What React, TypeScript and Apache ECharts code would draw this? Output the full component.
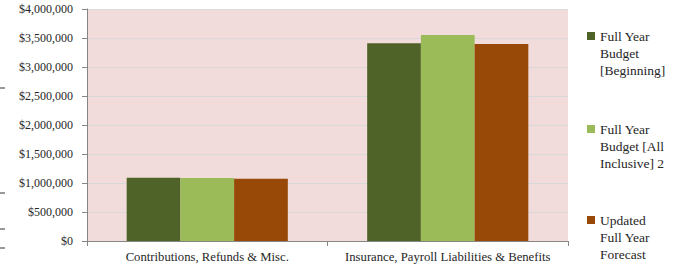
import React, { useEffect, useRef } from "react";
import * as echarts from "echarts";

const categories = ["Contributions, Refunds & Misc.", "Insurance, Payroll Liabilities & Benefits"];
const seriesNames = ["Full Year Budget [Beginning]", "Full Year Budget [All Inclusive] 2", "Updated Full Year Forecast"];
const legendLabels = ["Full Year\nBudget\n[Beginning]", "Full Year\nBudget [All\nInclusive] 2", "Updated\nFull Year\nForecast"];
const budgetBeginning = [1090000, 3410000];
const budgetAllInclusive = [1088000, 3550000];
const updatedForecast = [1075000, 3395000];
const colors = ["#4f6228", "#9bbb59", "#984807"];

const FONT = "Liberation Serif";
const legendTops = [-6.5, 86.5, 177.5];

export default function App() {
  const ref = useRef<HTMLDivElement>(null);
  useEffect(() => {
    const chart = echarts.init(ref.current!, null, { renderer: "svg" });
    const values = [budgetBeginning, budgetAllInclusive, updatedForecast];
    chart.setOption({
      animation: false,
      textStyle: { fontFamily: FONT },
      grid: { left: 87, right: 113, top: 9, bottom: 27, show: true, backgroundColor: "#f2dcdb", borderWidth: 0 },
      legend: seriesNames.map((n, i) => ({
        orient: "vertical",
        left: 587,
        top: legendTops[i],
        padding: 0,
        itemWidth: 8,
        itemHeight: 8,
        icon: "rect",
        data: [n],
        formatter: (name: string) => "\n\n" + legendLabels[seriesNames.indexOf(name)],
        textStyle: { fontFamily: FONT, fontSize: 13.5, lineHeight: 17, color: "#262626" },
      })),
      xAxis: {
        type: "category",
        data: categories,
        axisLine: { lineStyle: { color: "#868686" } },
        axisTick: { show: true, length: 5, lineStyle: { color: "#868686" } },
        axisLabel: { fontFamily: FONT, fontSize: 12.7, color: "#262626", margin: 9, interval: 0 },
      },
      yAxis: {
        type: "value",
        min: 0,
        max: 4000000,
        interval: 500000,
        axisLine: { show: true, lineStyle: { color: "#868686" } },
        axisTick: { show: true, length: 5, lineStyle: { color: "#868686" } },
        splitLine: { lineStyle: { color: "#d9d9d9" } },
        axisLabel: {
          fontFamily: FONT,
          fontSize: 12,
          color: "#262626",
          margin: 14,
          formatter: (v: number) => "$" + v.toLocaleString("en-US"),
        },
      },
      series: seriesNames.map((n, i) => ({
        name: n,
        type: "bar",
        data: values[i],
        barGap: "0%",
        barCategoryGap: "33%",
        itemStyle: { color: colors[i] },
      })),
      graphic: [88, 193, 229, 248].map((y) => ({
        type: "line",
        shape: { x1: 0, y1: y, x2: 5, y2: y },
        style: { stroke: "#333", lineWidth: 1 },
      })),
    });
    return () => chart.dispose();
  }, []);
  return <div ref={ref} style={{ width: 681, height: 268, position: "absolute", left: 0, top: 0 }} />;
}
